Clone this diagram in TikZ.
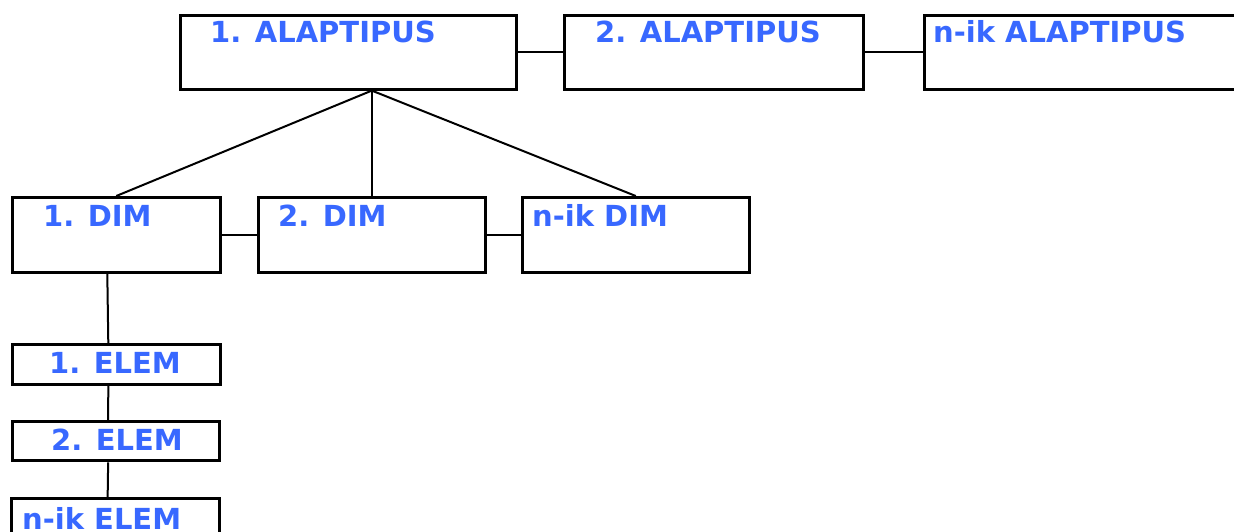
\documentclass[tikz,border=0pt]{standalone}
\usepackage{fontspec}
\setmainfont{DejaVu Sans}
\usetikzlibrary{positioning,calc}
\definecolor{labelblue}{HTML}{3868FF}

\tikzset{
  box/.style={draw, line width=2.6pt, inner sep=0pt, anchor=north west},
  thickbox/.style={box, line width=3.3pt},
  tag/.style={anchor=base west, inner sep=0pt, text=labelblue,
              font=\bfseries\fontsize{29}{34}\selectfont},
  link/.style={line width=2pt}
}

\begin{document}
\begin{tikzpicture}[x=1pt, y=-1pt]
  \useasboundingbox (0,0) rectangle (1234,532);
  \clip (0,0) rectangle (1234,532);

  % boxes
  \node[box, minimum width=336, minimum height=74] (a1) at (179,14) {};
  \node[box, minimum width=299, minimum height=74] (a2) at (563,14) {};
  \node[box, minimum width=330, minimum height=74] (a3) at (923,14) {};

  \node[box, minimum width=208, minimum height=75] (d1) at (11,196) {};
  \node[box, minimum width=227, minimum height=75] (d2) at (257,196) {};
  \node[box, minimum width=227, minimum height=75] (d3) at (521,196) {};

  \node[box, minimum width=208, minimum height=40] (e1) at (11,343) {};
  \node[thickbox, minimum width=207, minimum height=39] (e2) at (11,420) {};
  \node[thickbox, minimum width=208, minimum height=50] (e3) at (10,497) {};

  % labels
  \node[tag] (a1t) at (210,43) {1. ALAPTIPUS};
  \node[tag] (a2t) at (595,43) {2. ALAPTIPUS};
  \node[tag] (a3t) at (933,43) {n-ik ALAPTIPUS};
  \node[tag] (d1t) at (43,226) {1. DIM};
  \node[tag] (d2t) at (278,226) {2. DIM};
  \node[tag] (d3t) at (532,226) {n-ik DIM};
  \node[tag] (e1t) at (49,373) {1. ELEM};
  \node[tag] (e2t) at (51,450) {2. ELEM};
  \node[tag] (e3t) at (22,529) {n-ik ELEM};

  % connectors
  \draw[link] (a1.east) -- (a2.west);
  \draw[link] (a2.east) -- (a3.west);
  \coordinate (hub) at (a1.south -| d2.north);
  \draw[link] (hub) -- (d1.north);
  \draw[link] (hub) -- (d2.north);
  \draw[link] (hub) -- (d3.north);
  \draw[link] (d1.east) -- (d2.west);
  \draw[link] (d2.east) -- (d3.west);
  \draw[link] ([xshift=-9pt]d1.south) -- ([xshift=-8pt]e1.north);
  \draw[link] ([xshift=-8pt]e1.south) -- ([xshift=-8pt]e2.north);
  \draw[link] ([xshift=-8pt]e2.south) -- ([xshift=-8pt]e3.north);
\end{tikzpicture}
\end{document}
